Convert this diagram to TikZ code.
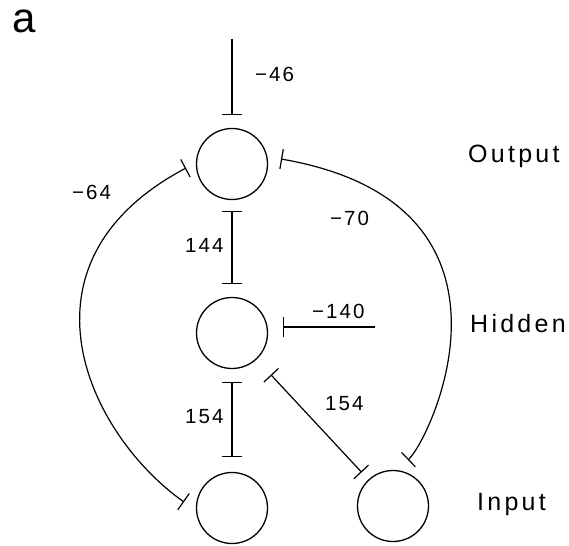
\documentclass[tikz,border=0pt]{standalone}
\usepackage{fontspec}
\setmainfont{Liberation Sans}
\newfontfamily\spacedfont[LetterSpace=10]{Liberation Sans}
\newfontfamily\widefont[LetterSpace=13]{Liberation Sans}
\usetikzlibrary{arrows.meta,calc}
\begin{document}
\begin{tikzpicture}[x=1pt,y=-1pt,
  unit/.style={circle,draw,line width=1.3pt,minimum size=71pt,inner sep=0pt},
  inh/.style={line width=1.2pt},
  bar/.tip={Bar[width=20pt]},
  wlab/.style={anchor=base west,inner sep=0pt,font=\spacedfont\fontsize{20.5}{24}\selectfont},
  layer/.style={anchor=base west,inner sep=0pt,font=\widefont\fontsize{25}{30}\selectfont}
]
\useasboundingbox (0,0) rectangle (569,545);
% units
\node[unit] (out) at (232,164) {};
\node[unit] (hid) at (232,333) {};
\node[unit] (in1) at (232,508) {};
\node[unit] (in2) at (393,506) {};
% free ends
\coordinate (top46) at (232,39);
\coordinate (c140) at (375,327);
% connectors
\draw[inh,-bar,shorten >=13pt] (top46) -- (out.north);
\draw[inh,bar-bar,shorten <=11pt,shorten >=13pt] (out.south) -- (hid.north);
\draw[inh,bar-bar,shorten <=13pt,shorten >=15pt] (hid.south) -- (in1.north);
\draw[inh,-bar,shorten >=15pt] (c140) -- (c140 -| hid.east);
\draw[inh,bar-bar,shorten <=57pt,shorten >=46pt] (hid.center) -- (in2.center);
\draw[inh,bar-bar] ($(out)+(-46,4)$) .. controls (7,263) and (88,434) .. ($(in1)+(-48,-6)$);
\draw[inh,bar-bar] ($(out)+(49,-5)$) .. controls (541,204) and (432,437) .. ($(in2)+(15,-46)$);
% weights
\node[wlab] (w46) at (255,82) {−46};
\node[wlab] (w144) at (185,252) {144};
\node[wlab] (w70) at (330,225) {−70};
\node[wlab] (w140) at (312,318) {−140};
\node[wlab] (w154a) at (185,423) {154};
\node[wlab] (w154b) at (325,410) {154};
\node[wlab] (w64) at (72,200) {−64};
% layer names
\node[layer] (lo) at (468,163) {Output};
\node[layer] (lh) at (470,332) {Hidden};
\node[layer] (li) at (477,510) {Input};
\node[anchor=base west,inner sep=0pt,font=\fontsize{42}{48}\selectfont] (lab) at (12,33) {a};
\end{tikzpicture}
\end{document}
